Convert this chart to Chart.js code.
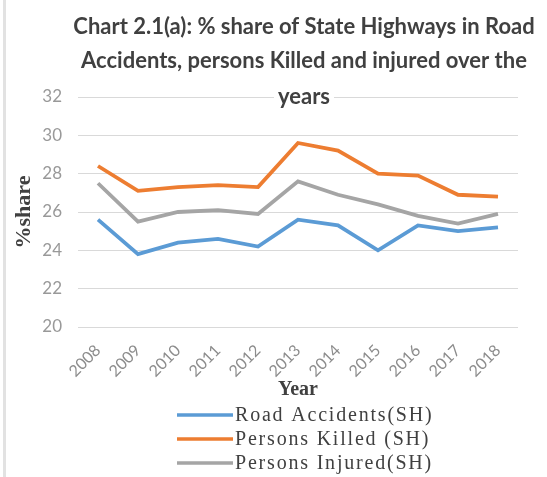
<!DOCTYPE html>
<html><head><meta charset="utf-8">
<script src="https://cdn.jsdelivr.net/npm/chart.js@4"></script>
<style>html,body{margin:0;padding:0;background:#fff}#wrap{width:547px;height:477px;position:relative}</style>
</head><body><div id="wrap"><canvas id="c" width="547" height="477"></canvas></div>
<script>
const years = ['2008','2009','2010','2011','2012','2013','2014','2015','2016','2017','2018'];
const roadAccidents = [25.6,23.8,24.4,24.6,24.2,25.6,25.3,24.0,25.3,25.0,25.2];
const personsKilled = [28.4,27.1,27.3,27.4,27.3,29.6,29.2,28.0,27.9,26.9,26.8];
const personsInjured = [27.5,25.5,26.0,26.1,25.9,27.6,26.9,26.4,25.8,25.4,25.9];
const seriesLabels = ['Road Accidents(SH)','Persons Killed (SH)','Persons Injured(SH)'];
const seriesColors = ['#5B9BD5','#ED7D31','#A5A5A5'];
const titleLines = ['Chart 2.1(a): % share of State Highways in Road','Accidents, persons Killed and injured over the','years'];
const yMin = 20, yMax = 32, yStep = 2;
const yTitle = '%share', xTitle = 'Year';

const decor = {
  id: 'decor',
  afterDraw(chart) {
    const ctx = chart.ctx;
    ctx.save();
    // left border
    ctx.fillStyle = '#e2e2e2';
    ctx.fillRect(3, 0, 3, 477);
    // title
    ctx.font = 'bold 22px Lato';
    ctx.fillStyle = '#404040';
    ctx.textAlign = 'center';
    ctx.textBaseline = 'middle';
    const ty = [27, 61, 97];
    titleLines.forEach((t, i) => {
      if (i === titleLines.length - 1) {
        const w = ctx.measureText(t).width;
        ctx.fillStyle = '#fff';
        ctx.fillRect(304 - w/2 - 4, ty[i] - 4, w + 8, 8);
        ctx.fillStyle = '#404040';
      }
      ctx.fillText(t, 304, ty[i]);
    });
    // legend
    const ly = [415, 439, 463];
    ctx.font = '20px "Liberation Serif"';
    ctx.letterSpacing = '1.8px';
    ctx.textAlign = 'left';
    chart.data.datasets.forEach((ds, i) => {
      ctx.strokeStyle = ds.borderColor;
      ctx.lineWidth = 3.5;
      ctx.beginPath();
      ctx.moveTo(177, ly[i]);
      ctx.lineTo(233, ly[i]);
      ctx.stroke();
      ctx.fillStyle = '#404040';
      ctx.fillText(ds.label, 235, ly[i] + 1);
    });
    ctx.restore();
  }
};

new Chart(document.getElementById('c'), {
  type: 'line',
  data: {
    labels: years,
    datasets: [
      {label: seriesLabels[0], data: roadAccidents, borderColor: seriesColors[0]},
      {label: seriesLabels[1], data: personsKilled, borderColor: seriesColors[1]},
      {label: seriesLabels[2], data: personsInjured, borderColor: seriesColors[2]}
    ].map(d => Object.assign(d, {borderWidth: 3.8, pointRadius: 0, tension: 0, fill: false, backgroundColor: d.borderColor}))
  },
  options: {
    responsive: false,
    animation: false,
    devicePixelRatio: 1,
    layout: {padding: {top: 97, right: 29, bottom: 0, left: 0}},
    plugins: {legend: {display: false}, title: {display: false}, tooltip: {enabled: false}},
    scales: {
      x: {
        offset: true,
        grid: {display: false, drawTicks: false},
        border: {display: false},
        ticks: {maxRotation: 45, minRotation: 45, padding: 14, color: '#8c8c8c', font: {family: 'Lato', size: 16}},
        title: {display: true, text: xTitle, color: '#404040', font: {family: 'Liberation Serif', size: 20, weight: 'bold'}, padding: {top: 0, bottom: 75}},
        afterFit(s) { s.height = 150; }
      },
      y: {
        min: yMin, max: yMax,
        grid: {color: '#d9d9d9', lineWidth: 1, drawTicks: false},
        border: {display: false},
        ticks: {stepSize: yStep, padding: 16, color: '#999999', font: {family: 'Lato', size: 17}},
        title: {display: true, text: yTitle, color: '#404040', font: {family: 'Liberation Serif', size: 22, weight: 'bold'}, padding: {top: 11, bottom: 0}},
        afterFit(s) { s.width = 78; }
      }
    }
  },
  plugins: [decor]
});
</script></body></html>
